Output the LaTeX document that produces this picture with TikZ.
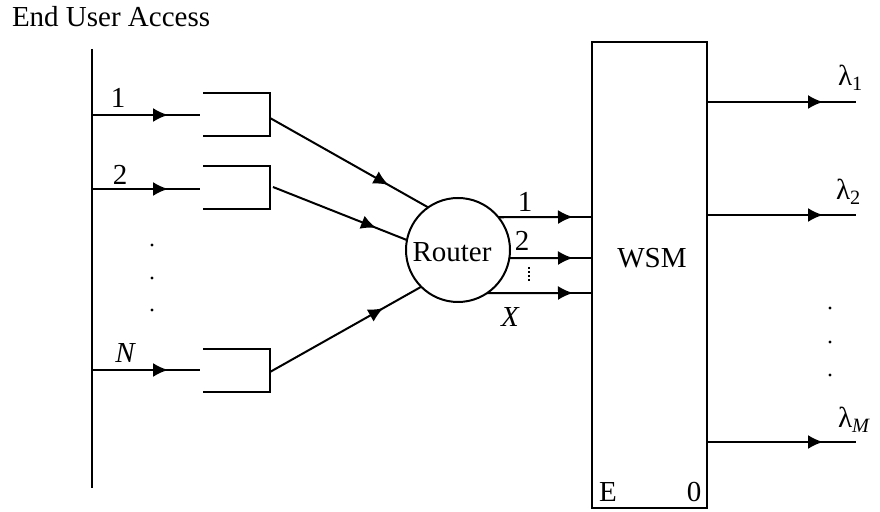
\documentclass[tikz,border=0pt]{standalone}
\usepackage{fontspec}
\setmainfont{Liberation Serif}
\usetikzlibrary{arrows.meta,decorations.markings}
\begin{document}
\begin{tikzpicture}[x=0.5pt,y=-0.5pt,line width=1pt,
  every node/.style={inner sep=0pt,outer sep=0pt,font=\fontsize{14.5}{17}\selectfont},
  tipA/.style={-{Latex[length=7.5pt,width=7pt]}},
  midtip/.style={postaction={decorate},decoration={markings,mark=at position #1 with {\arrow{Latex[length=7.5pt,width=7pt]}}}},
  bufbox/.style={minimum width=33.5pt,minimum height=21.5pt},
  dotmark/.style={circle,fill,inner sep=0pt,minimum size=1.6pt}]
\useasboundingbox (0,0) rectangle (880,512);

% title
\node[anchor=base west] (title) at (12,27) {End User Access};

% bus
\coordinate (bustop) at (92,49);
\coordinate (busbot) at (92,488);
\draw (bustop) -- (busbot);

% buffers
\node[bufbox] (b1) at (236.5,114.5) {};
\node[bufbox] (b2) at (236.5,188) {};
\node[bufbox] (bN) at (236.5,370.5) {};
\foreach \b in {b1,b2,bN}{
  \draw (\b.north west) -- (\b.north east) -- (\b.south east) -- (\b.south west);
}

% input lines
\coordinate (s1) at (92,115);  \coordinate (t1) at (200,115); \coordinate (a1) at (168,115);
\coordinate (s2) at (92,189);  \coordinate (t2) at (200,189); \coordinate (a2) at (168,189);
\coordinate (sN) at (92,370);  \coordinate (tN) at (200,370); \coordinate (aN) at (168,370);
\foreach \i in {1,2,N}{
  \draw (s\i) -- (t\i);
  \draw[tipA] (s\i) -- (a\i);
}
\node[anchor=base] (l1) at (118,108) {1};
\node[anchor=base] (l2) at (120,185) {2};
\node[anchor=base] (lN) at (125,363) {\itshape N};

% left dots
\node[dotmark] (ld1) at (152,245) {};
\node[dotmark] (ld2) at (152,278) {};
\node[dotmark] (ld3) at (152,310) {};

% router
\node[circle,draw,minimum size=52pt] (router) at (458,250) {};
\node (rlbl) at (452,252) {Router};

\coordinate (o1) at (270,118);
\coordinate (o2) at (273,187);
\coordinate (oN) at (270,372);
\draw[midtip=0.75] (o1) -- (router.125);
\draw[midtip=0.77] (o2) -- (router.169);
\draw[midtip=0.75] (oN) -- (router.225);

% WSM
\node[draw,minimum width=57.5pt,minimum height=233pt] (wsm) at (649.5,275) {};
\node (wsmlbl) at (652,258) {WSM};
\node[anchor=base] (eL) at (608,502) {E};
\node[anchor=base] (zL) at (694,502) {0};

% router to WSM
\foreach \ang/\y in {39.4/217,351.2/258,304.2/293}{
  \draw (router.\ang) -- (router.\ang -| wsm.west);
  \draw[tipA] (router.\ang) -- (573,\y);
}
\node[anchor=base] (x1) at (525,212) {1};
\node[anchor=base] (x2) at (522,251) {2};
\node[anchor=base] (xX) at (510,327) {\itshape X};
\coordinate (vd1) at (529,267);
\coordinate (vd2) at (529,283);
\draw[line width=0.6pt,dash pattern=on 1pt off 1pt] (vd1) -- (vd2);

% outputs
\foreach \y/\n in {102/1,215/2,442/M}{
  \draw (wsm.east |- 0,\y) -- (856,\y);
  \draw[tipA] (wsm.east |- 0,\y) -- (823,\y);
}
\node[anchor=base west] (lam1) at (838,86) {λ\textsubscript{1}};
\node[anchor=base west] (lam2) at (836,200) {λ\textsubscript{2}};
\node[anchor=base west] (lamM) at (838,428) {λ\textsubscript{\itshape M}};

% right dots
\node[dotmark] (rd1) at (830,308) {};
\node[dotmark] (rd2) at (830,342) {};
\node[dotmark] (rd3) at (830,375) {};
\end{tikzpicture}
\end{document}
